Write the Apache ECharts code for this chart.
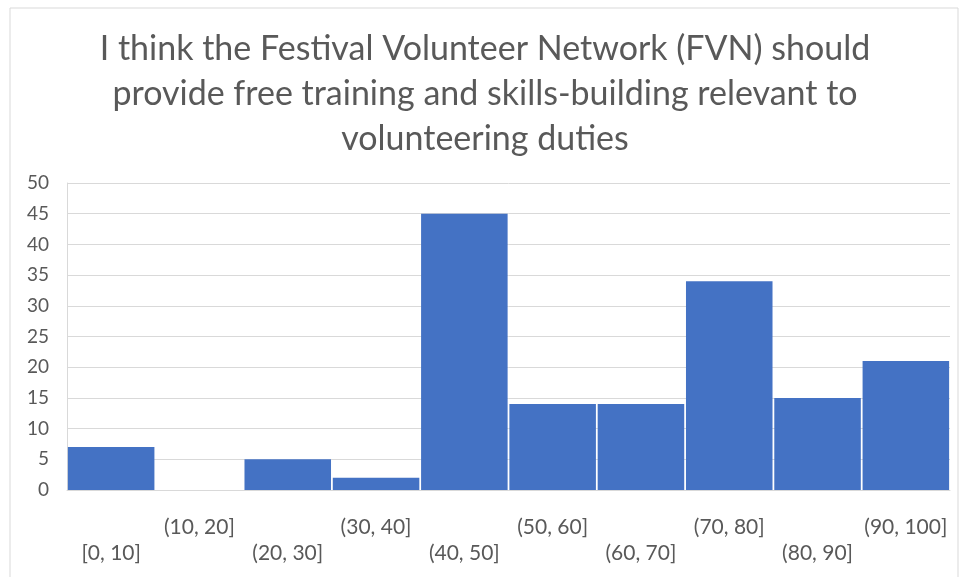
<!DOCTYPE html>
<html>
<head>
<meta charset="utf-8">
<script src="https://cdn.jsdelivr.net/npm/echarts@6/dist/echarts.min.js"></script>
<style>
  html, body { margin: 0; padding: 0; background: #fff; }
  #chart { width: 970px; height: 577px; }
</style>
</head>
<body>
<div id="chart"></div>
<script>
  // histogram bins and counts
  var bins = ['[0, 10]', '(10, 20]', '(20, 30]', '(30, 40]', '(40, 50]', '(50, 60]', '(60, 70]', '(70, 80]', '(80, 90]', '(90, 100]'];
  var counts = [7, 0, 5, 2, 45, 14, 14, 34, 15, 21];
  var titleText = 'I think the Festival Volunteer Network (FVN) should\nprovide free training and skills-building relevant to\nvolunteering duties';

  var textGrey = '#595959';
  var lineGrey = '#d9d9d9';

  var myChart = echarts.init(document.getElementById('chart'));
  myChart.setOption({
    animation: false,
    title: {
      text: titleText,
      left: 'center',
      top: 22,
      textStyle: {
        fontFamily: 'Lato',
        fontWeight: 'normal',
        fontSize: 34,
        lineHeight: 45,
        color: textGrey
      }
    },
    graphic: [{
      type: 'rect',
      shape: { x: 10, y: 8, width: 948, height: 580 },
      style: { fill: 'none', stroke: lineGrey, lineWidth: 1 }
    }],
    grid: { left: 67, right: 20, top: 183, bottom: 87 },
    xAxis: {
      type: 'category',
      data: bins,
      axisLine: { lineStyle: { color: lineGrey } },
      axisTick: { show: false },
      axisLabel: {
        interval: 0,
        margin: 24,
        color: textGrey,
        fontSize: 21,
        fontFamily: 'Lato',
        lineHeight: 26,
        formatter: function (v, i) {
          // staggered labels like the original
          return i % 2 === 1 ? v : '\n' + v;
        }
      }
    },
    yAxis: {
      type: 'value',
      min: 0,
      max: 50,
      interval: 5,
      axisLine: { show: true, lineStyle: { color: lineGrey } },
      axisTick: { show: false },
      splitLine: { lineStyle: { color: lineGrey } },
      axisLabel: { color: textGrey, fontSize: 19, fontFamily: 'Lato', margin: 18 }
    },
    series: [{
      type: 'bar',
      data: counts,
      barCategoryGap: '2%',
      itemStyle: { color: '#4472C4' }
    }]
  });
</script>
</body>
</html>
